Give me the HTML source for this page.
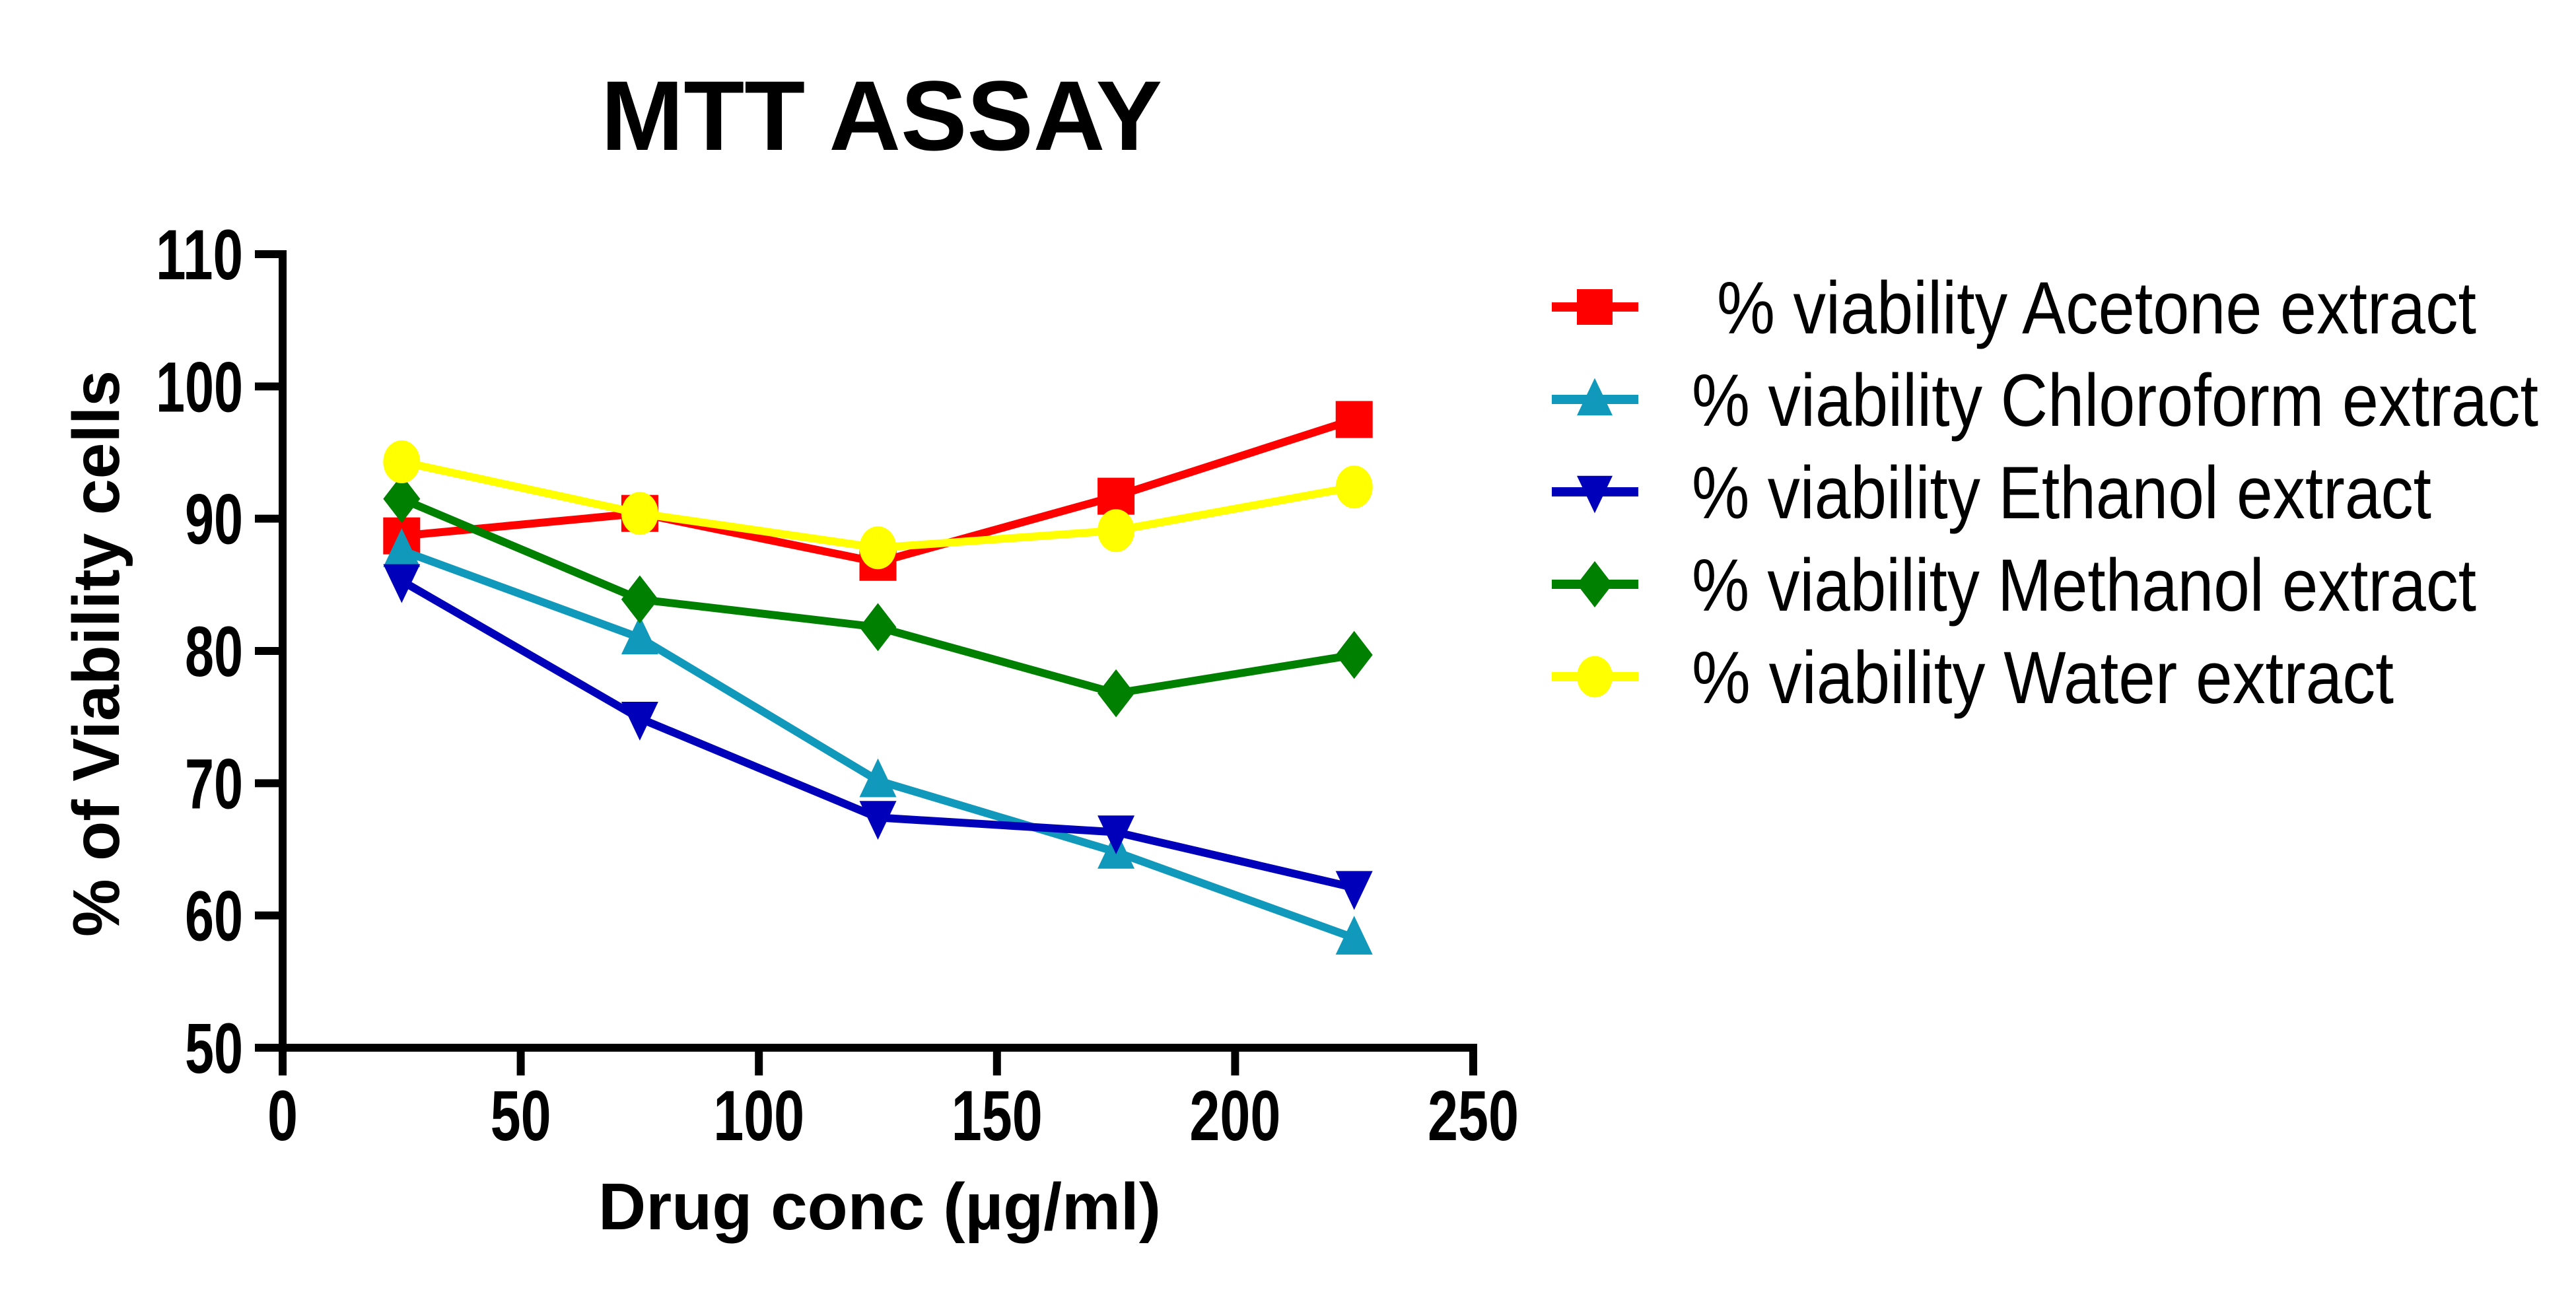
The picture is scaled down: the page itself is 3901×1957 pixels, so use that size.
<!DOCTYPE html>
<html><head><meta charset="utf-8"><style>
html,body{margin:0;padding:0;background:#fff;}
svg{display:block;}
text{font-family:"Liberation Sans",Arial,sans-serif;}
</style></head><body>
<svg id="chart" width="3901" height="1957" viewBox="0 0 3901 1957" xmlns="http://www.w3.org/2000/svg">
<rect width="3901" height="1957" fill="#fff"/>
<text x="1335" y="227" text-anchor="middle" font-size="150" font-weight="bold" textLength="850" lengthAdjust="spacingAndGlyphs">MTT ASSAY</text>
<text x="1332" y="1862" text-anchor="middle" font-size="100" font-weight="bold" textLength="852" lengthAdjust="spacingAndGlyphs">Drug conc (µg/ml)</text>
<text transform="translate(180,990) rotate(-90)" text-anchor="middle" font-size="100" font-weight="bold" textLength="858" lengthAdjust="spacingAndGlyphs">% of Viability cells</text>
<g id="axes"></g><g id="series"></g><g id="legend"></g>
</svg>
<script>
const xValues=[25,75,125,175,225];
const seriesNames=[" % viability Acetone extract","% viability Chloroform extract","% viability Ethanol extract","% viability Methanol extract","% viability Water extract"];
const acetone=[88.7,90.4,86.7,91.7,97.5];
const chloroform=[87.6,81.0,70.2,64.8,58.3];
const ethanol=[85.3,74.9,67.4,66.3,62.1];
const methanol=[91.5,83.9,81.8,76.8,79.7];
const water=[94.3,90.4,87.8,89.1,92.4];
const xTicks=[0,50,100,150,200,250];
const yTicks=[50,60,70,80,90,100,110];
const colors=["#ff0000","#1199bb","#0000bb","#008000","#ffff00"];
const markers=["square","up","down","diamond","circle"];
const allSeries=[acetone,chloroform,ethanol,methanol,water];

const NS="http://www.w3.org/2000/svg";
const X0=428,X1=2231,Y0=1587,Y1=385;
function sx(v){return X0+(v-0)/(250-0)*(X1-X0);}
function sy(v){return Y0-(v-50)/(110-50)*(Y0-Y1);}
function mk(tag,attrs,parent){const e=document.createElementNS(NS,tag);for(const k in attrs)e.setAttribute(k,attrs[k]);parent.appendChild(e);return e;}
const axes=document.getElementById('axes');
let yl=mk('line',{x1:X0,y1:Y1-6,x2:X0,y2:Y0+6,stroke:'#000','stroke-width':12},axes);


let xl=mk('line',{x1:X0-6,y1:Y0,x2:X1+6,y2:Y0,stroke:'#000','stroke-width':12},axes);


yTicks.forEach(v=>{
  const t=mk('line',{x1:X0-42,y1:sy(v),x2:X0,y2:sy(v),stroke:'#000','stroke-width':12},axes);
  
  
  const s=String(v);
  const l=mk('text',{x:X0-60,y:sy(v)+38,'text-anchor':'end','font-size':108,'font-weight':'bold',textLength:s.length*44,lengthAdjust:'spacingAndGlyphs'},axes);
  
  
  l.textContent=v;
});
xTicks.forEach(v=>{
  const t=mk('line',{x1:sx(v),y1:Y0,x2:sx(v),y2:Y0+42,stroke:'#000','stroke-width':12},axes);
  
  
  const s=String(v);
  const l=mk('text',{x:sx(v),y:Y0+140,'text-anchor':'middle','font-size':108,'font-weight':'bold',textLength:s.length*46,lengthAdjust:'spacingAndGlyphs'},axes);
  
  
  l.textContent=v;
});
function marker(type,cx,cy,color,parent,s){
  let e;
  if(type==='square')e=mk('rect',{x:cx-s/2,y:cy-s/2,width:s,height:s,fill:color},parent);
  else if(type==='up')e=mk('polygon',{points:`${cx},${cy-s*0.6} ${cx+s*0.5},${cy+s*0.45} ${cx-s*0.5},${cy+s*0.45}`,fill:color},parent);
  else if(type==='down')e=mk('polygon',{points:`${cx-s*0.5},${cy-s*0.45} ${cx+s*0.5},${cy-s*0.45} ${cx},${cy+s*0.6}`,fill:color},parent);
  else if(type==='diamond')e=mk('polygon',{points:`${cx},${cy-s*0.65} ${cx+s*0.5},${cy} ${cx},${cy+s*0.65} ${cx-s*0.5},${cy}`,fill:color},parent);
  else e=mk('ellipse',{cx:cx,cy:cy,rx:s*0.5,ry:s*0.58,fill:color},parent);
  return e;
}
const sg=document.getElementById('series');
allSeries.forEach((vals,i)=>{
  const g=mk('g',{},sg);
  
  
  const pts=vals.map((v,j)=>sx(xValues[j])+','+sy(v)).join(' ');
  const pl=mk('polyline',{points:pts,fill:'none',stroke:colors[i],'stroke-width':12,'stroke-linejoin':'round'},g);
  
  
  vals.forEach((v,j)=>{
    const m=marker(markers[i],sx(xValues[j]),sy(v),colors[i],g,56);
    
    
  });
});
const lg=document.getElementById('legend');
const legendLens=[1150,1282,1120,1188,1063];
seriesNames.forEach((n,i)=>{
  const y=465+i*140;
  const g=mk('g',{},lg);
  
  
  mk('line',{x1:2350,y1:y,x2:2481,y2:y,stroke:colors[i],'stroke-width':14},g);
  marker(markers[i],2415,y,colors[i],g,54);
  const tx=i===0?2600:2562;
  const t=mk('text',{x:tx,y:y+40,'font-size':112,textLength:legendLens[i],lengthAdjust:'spacingAndGlyphs'},g);
  
  
  t.textContent=n.trim();
});
</script>
</body></html>
